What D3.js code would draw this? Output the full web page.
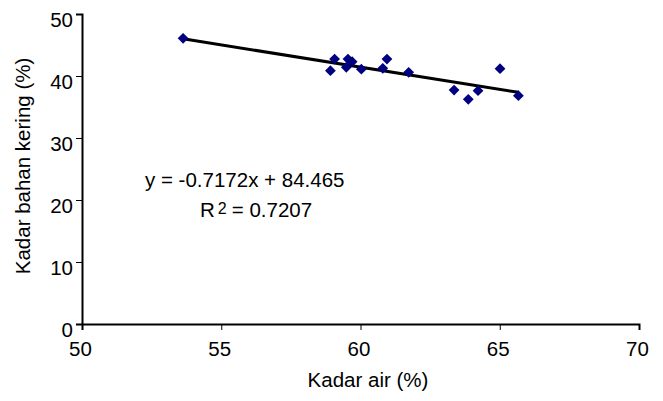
<!DOCTYPE html>
<html lang="en">
<head>
    <meta charset="UTF-8">
    <title>Kadar air vs Kadar bahan kering</title>
    <script src="https://d3js.org/d3.v7.min.js"></script>
    <style>
        body { margin: 0; background: #fff; }
        svg { font-family: "Liberation Sans", Arial, sans-serif; }
        .axis path, .axis line { stroke: #000; }
        .axis path { stroke-width: 2px; }
        .axis text { font-size: 20.5px; fill: #000; }
    </style>
</head>
<body>
    <div id="chart"></div>

    <script>
        // data
        const kadarAir = [53.63, 58.92, 59.07, 59.49, 59.55, 59.70, 60.03, 60.80, 60.95, 61.73, 63.36, 63.87, 64.22, 65.01, 65.67];
        const bahanKering = [46.08, 40.86, 42.74, 41.40, 42.74, 42.31, 41.10, 41.24, 42.74, 40.60, 37.74, 36.24, 37.63, 41.18, 36.82];
        const xTicks = [50, 55, 60, 65, 70];
        const yTicks = [0, 10, 20, 30, 40, 50];
        const slope = -0.7172, intercept = 84.465;

        const width = 663, height = 401;

        const svg = d3.select("#chart").append("svg")
            .attr("width", width)
            .attr("height", height);

        const x = d3.scaleLinear().domain([50, 70]).range([82, 639]);
        const y = d3.scaleLinear().domain([0, 50]).range([324, 14]);

        // x axis
        svg.append("g")
            .attr("class", "axis")
            .attr("transform", `translate(0,${y(0)})`)
            .call(d3.axisBottom(x).tickValues(xTicks).tickSizeOuter(0).tickSize(6).tickPadding(11))
            .selectAll("text").attr("dx", "-2");

        // y axis
        svg.append("g")
            .attr("class", "axis")
            .attr("transform", `translate(${x(50)},0)`)
            .call(d3.axisLeft(y).tickValues(yTicks).tickSizeOuter(0).tickSize(6).tickPadding(3))
            .selectAll("text").attr("dy", "0.6em");

        // trend line over the data range
        const xr = d3.extent(kadarAir);
        svg.append("line")
            .attr("x1", x(xr[0])).attr("y1", y(slope * xr[0] + intercept))
            .attr("x2", x(xr[1])).attr("y2", y(slope * xr[1] + intercept))
            .attr("stroke", "#000")
            .attr("stroke-width", 3);

        // diamond markers
        const diamond = d3.symbol().type(d3.symbolSquare).size(58);
        svg.selectAll("path.pt")
            .data(kadarAir.map((v, i) => [v, bahanKering[i]]))
            .join("path")
            .attr("class", "pt")
            .attr("d", diamond)
            .attr("transform", d => `translate(${x(d[0])},${y(d[1])}) rotate(45)`)
            .attr("fill", "#000080");

        // equation + R²
        svg.append("text")
            .attr("x", 145).attr("y", 187)
            .attr("font-size", 20.5)
            .text("y = -0.7172x + 84.465");

        const r2 = svg.append("text")
            .attr("x", 200).attr("y", 217)
            .attr("font-size", 20.5);
        r2.append("tspan").text("R");
        r2.append("tspan").attr("dx", 3).attr("dy", -3).attr("font-size", 16).text("2");
        r2.append("tspan").attr("dx", 5).attr("dy", 3).text("= 0.7207");

        // axis titles
        svg.append("text")
            .attr("x", 368).attr("y", 387)
            .attr("text-anchor", "middle")
            .attr("font-size", 20.5)
            .text("Kadar air (%)");

        svg.append("text")
            .attr("transform", "translate(30,166) rotate(-90)")
            .attr("text-anchor", "middle")
            .attr("font-size", 20.5)
            .text("Kadar bahan kering (%)");
    </script>
</body>
</html>
